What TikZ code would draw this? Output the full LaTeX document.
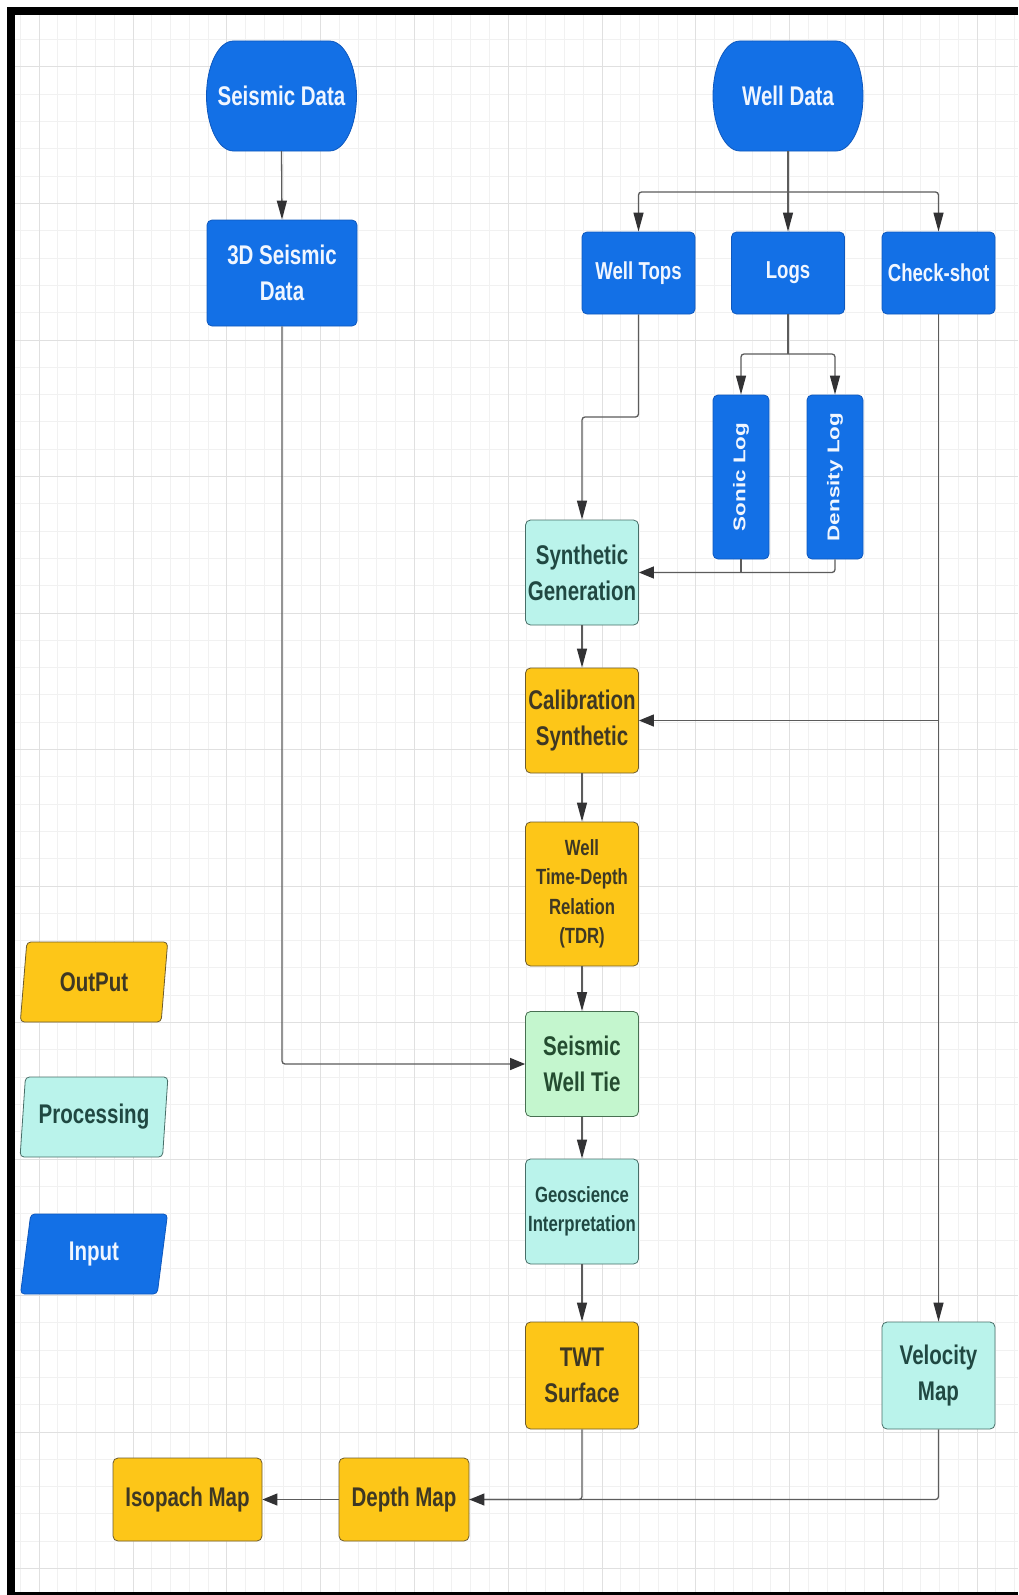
\documentclass[tikz,border=0pt]{standalone}
\usepackage{fontspec}
\usepackage{graphicx}
\setmainfont{Liberation Sans}[FakeStretch=0.76]
\newfontfamily\tallfont{Liberation Sans}[FakeStretch=1.32]
\usetikzlibrary{arrows.meta, shapes.geometric}

\definecolor{inputblue}{RGB}{19,112,230}
\definecolor{inputedge}{RGB}{14,88,190}
\definecolor{intext}{RGB}{240,246,255}
\definecolor{outyellow}{RGB}{253,198,24}
\definecolor{outedge}{RGB}{110,92,45}
\definecolor{outtext}{RGB}{62,56,36}
\definecolor{proccyan}{RGB}{186,243,235}
\definecolor{procedge}{RGB}{72,110,104}
\definecolor{proctext}{RGB}{32,72,66}
\definecolor{tiegreen}{RGB}{196,246,206}
\definecolor{tieedge}{RGB}{72,112,82}
\definecolor{tietext}{RGB}{36,76,48}
\definecolor{gridfine}{RGB}{241,241,241}
\definecolor{gridmajor}{RGB}{224,224,224}
\definecolor{linkgray}{RGB}{92,92,92}
\definecolor{tipgray}{RGB}{50,50,52}

\newcommand{\fbig}{\fontsize{27}{36}\selectfont\bfseries}
\newcommand{\fmid}{\fontsize{24.5}{33}\selectfont\bfseries}
\newcommand{\fsmall}{\fontsize{22}{29.5}\selectfont\bfseries}
\newcommand{\ftall}{\tallfont\fontsize{17}{20}\selectfont\bfseries}

\begin{document}
\begin{tikzpicture}[x=1pt, y=1pt,
  box/.style={rectangle, rounded corners=5pt, align=center, inner sep=1pt,
    line width=0.8pt, minimum width=113, minimum height=105, font=\fbig},
  inbox/.style={box, fill=inputblue, draw=inputedge, text=intext},
  outbox/.style={box, fill=outyellow, draw=outedge, text=outtext},
  procbox/.style={box, fill=proccyan, draw=procedge, text=proctext},
  terminal/.style={minimum width=150, minimum height=110, inner sep=0pt,
    text=intext, font=\fbig},
  key/.style={trapezium, trapezium left angle=80.8, trapezium right angle=99.2,
    trapezium stretches=true, minimum width=148, minimum height=80,
    rounded corners=4pt, line width=0.8pt, inner sep=1pt, font=\fbig},
  link/.style={draw=linkgray, line width=1.3pt, rounded corners=3pt},
  flow/.style={link, -{Triangle[length=19pt, width=10pt, color=tipgray]}},
  hflow/.style={link, -{Triangle[length=15pt, width=12pt, color=tipgray]}}]
  \useasboundingbox (0,0) rectangle (1018,-1595);
  % paper, grid and frame
  \fill[white] (0,0) rectangle (1018,-1595);
  \begin{scope}
    \clip (15,-15) rectangle (1018,-1592);
    \foreach \i in {-1,...,52}
      \draw[gridfine, line width=1pt] (39.2+18.76*\i,-15) -- ++(0,-1580);
    \foreach \j in {-1,...,55}
      \draw[gridfine, line width=1pt] (15,-67-27.3*\j) -- ++(1003,0);
    \foreach \i in {0,5,...,50}
      \draw[gridmajor, line width=1pt] (39.2+18.76*\i,-15) -- ++(0,-1580);
    \foreach \j in {0,5,...,55}
      \draw[gridmajor, line width=1pt] (15,-67-27.3*\j) -- ++(1003,0);
  \end{scope}
  \fill[black] (7,-7) rectangle (1018,-15);
  \fill[black] (7,-7) rectangle (15,-1595);
  \fill[black] (7,-1592) rectangle (1018,-1595);

  % input terminals
  \foreach \nm/\cx/\txt in {seis/281.5/Seismic Data, well/788/Well Data}{
    \filldraw[fill=inputblue, draw=inputedge, line width=0.8pt]
      (\cx-48,-41) -- (\cx+48,-41)
      arc[start angle=90, end angle=-90, x radius=27pt, y radius=55pt]
      -- (\cx-48,-151)
      arc[start angle=270, end angle=90, x radius=27pt, y radius=55pt] -- cycle;
    \node[terminal] (\nm) at (\cx,-96) {\txt};
  }
  \node[inbox, minimum width=150, minimum height=106] (seis3d) at (282,-273) {3D Seismic\\Data};
  \node[inbox, font=\fmid, minimum height=82] (tops) at (638.5,-273) {Well Tops};
  \node[inbox, font=\fmid, minimum height=82] (logs) at (788,-273) {Logs};
  \node[inbox, font=\fmid, minimum height=82] (chk) at (938.5,-273) {Check-shot};
  \node[inbox, minimum width=56, minimum height=164] (sonic) at (741,-477) {\rotatebox{90}{\ftall Sonic Log}};
  \node[inbox, minimum width=56, minimum height=164] (dens) at (835,-477) {\rotatebox{90}{\ftall Density Log}};

  % main column
  \node[procbox] (synth) at (582,-572.5) {Synthetic\\Generation};
  \node[outbox] (calib) at (582,-720.5) {Calibration\\Synthetic};
  \node[outbox, font=\fsmall, minimum height=144] (tdr) at (582,-894) {Well\\Time-Depth\\Relation\\(TDR)};
  \node[box, fill=tiegreen, draw=tieedge, text=tietext] (tie) at (582,-1064) {Seismic\\Well Tie};
  \node[procbox, font=\fsmall] (geo) at (582,-1211.5) {Geoscience\\Interpretation};
  \node[outbox, minimum height=107] (twt) at (582,-1375.5) {TWT\\Surface};
  \node[procbox, minimum height=107] (vel) at (938.5,-1375.5) {Velocity\\Map};
  \node[outbox, minimum width=130, minimum height=83] (depth) at (404,-1499.5) {Depth Map};
  \node[outbox, minimum width=149, minimum height=83] (iso) at (187.5,-1499.5) {Isopach Map};

  % legend
  \node[key, fill=outyellow, draw=outedge, text=outtext] (kout) at (94,-982) {OutPut};
  \node[key, fill=proccyan, draw=procedge, text=proctext] (kproc) at (94,-1117) {Processing};
  \node[key, fill=inputblue, draw=inputedge, text=intext] (kin) at (94,-1254) {Input};

  % connectors
  \draw[flow] (seis.south) -- (seis3d.north);
  \draw[hflow] (seis3d.south) |- (tie.west);
  \coordinate (wsplit) at (788,-192);
  \draw[flow] (well.south) -- (logs.north);
  \draw[flow] (wsplit) -| (tops.north);
  \draw[flow] (wsplit) -| (chk.north);
  \coordinate (lsplit) at (788,-354);
  \draw[link] (logs.south) -- (lsplit);
  \draw[flow] (lsplit) -| (sonic.north);
  \draw[flow] (lsplit) -| (dens.north);
  \coordinate (tbend) at (638.5,-417);
  \draw[flow] (tops.south) -- (tbend) -| (synth.north);
  \draw[hflow] (dens.south) |- (synth.east);
  \draw[link] (sonic.south) -- (sonic.south |- synth.east);
  \draw[flow] (synth) -- (calib);
  \draw[flow] (calib) -- (tdr);
  \draw[flow] (tdr) -- (tie);
  \draw[flow] (tie) -- (geo);
  \draw[flow] (geo) -- (twt);
  \draw[flow] (chk.south) -- (vel.north);
  \draw[hflow] (chk.south |- calib.east) -- (calib.east);
  \draw[link] (twt.south) |- (depth.east);
  \draw[hflow] (vel.south) |- (depth.east);
  \draw[hflow] (depth) -- (iso);
\end{tikzpicture}
\end{document}
